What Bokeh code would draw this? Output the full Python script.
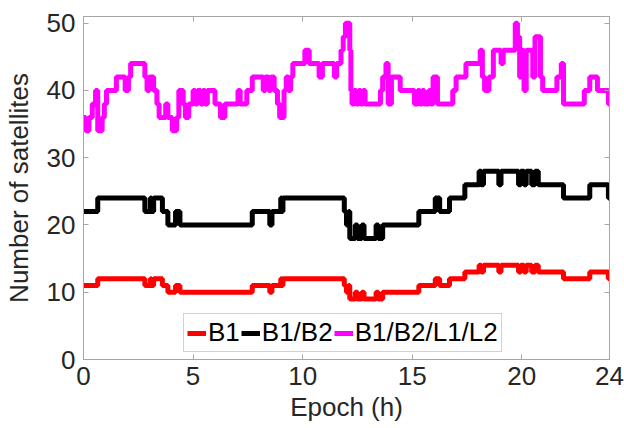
from bokeh.plotting import figure
from bokeh.models import (LinearAxis, Range1d, FixedTicker, Legend, LegendItem,
                          CustomLabelingPolicy)
from bokeh.embed import file_html
from bokeh.resources import INLINE

# ---- data ----
# switching epochs (h) shared by B1 and B1/B2 series
t_b = [0.00, 0.65, 2.80, 3.05, 3.10, 3.20, 3.60, 3.85, 4.20, 4.40, 7.70, 8.50, 8.60,
       9.00, 9.05, 9.10, 11.90, 12.00, 12.10, 12.15, 12.40, 12.50, 12.70, 12.80,
       13.35, 13.45, 13.65, 15.30, 16.05, 16.25, 16.70, 17.40, 18.05, 18.15, 18.25,
       18.95, 19.05, 19.85, 19.95, 20.10, 20.20, 20.45, 20.60, 20.75, 21.90, 23.10,
       23.95, 24.00]
n_b1 = [11, 12, 11, 12, 11, 12, 11, 10, 11, 10, 11, 10, 11,
        12, 11, 12, 11, 10, 11, 9, 10, 9, 10, 9,
        10, 9, 10, 11, 12, 11, 12, 13, 14, 13, 14,
        13, 14, 13, 14, 13, 14, 13, 14, 13, 12, 13,
        12, 12]
n_b1b2 = [22, 24, 22, 24, 22, 24, 22, 20, 22, 20, 22, 20, 22,
          24, 22, 24, 22, 20, 22, 18, 20, 18, 20, 18,
          20, 18, 20, 22, 24, 22, 24, 26, 28, 26, 28,
          26, 28, 26, 28, 26, 28, 26, 28, 26, 24, 26,
          24, 24]

t_all = [0.00, 0.10, 0.25, 0.40, 0.55, 0.65, 0.85, 0.95, 1.05, 1.50, 1.90, 2.05,
         2.15, 2.80, 2.90, 3.00, 3.20, 3.35, 3.45, 3.75, 3.85, 4.05, 4.25, 4.35,
         4.55, 4.65, 4.80, 5.00, 5.10, 5.20, 5.35, 5.45, 5.55, 5.65, 6.00, 6.25,
         6.45, 7.05, 7.15, 7.45, 7.70, 8.20, 8.30, 8.45, 8.55, 8.70, 8.85, 8.95,
         9.15, 9.25, 9.35, 9.45, 9.55, 10.10, 10.30, 10.75, 10.90, 11.45, 11.55,
         11.75, 11.85, 11.95, 12.15, 12.20, 12.25, 12.35, 12.45, 12.55, 12.65,
         12.75, 12.85, 13.55, 13.65, 13.80, 13.90, 14.05, 14.45, 15.10, 15.25,
         15.35, 15.45, 15.55, 15.75, 15.85, 15.95, 16.15, 16.85, 17.00, 17.45,
         18.10, 18.20, 18.30, 18.50, 18.70, 19.05, 19.15, 19.70, 19.80, 19.90,
         20.00, 20.10, 20.20, 20.50, 20.60, 20.85, 20.95, 21.60, 21.80, 21.90,
         22.85, 23.10, 23.45, 23.95, 24.00]
n_all = [36, 34, 36, 38, 40, 34, 36, 38, 40, 42, 40, 42,
         44, 42, 40, 42, 40, 38, 36, 38, 36, 34, 36, 40,
         38, 36, 38, 40, 38, 40, 38, 40, 38, 40, 38, 36,
         38, 40, 38, 40, 42, 40, 42, 40, 42, 40, 38, 36,
         40, 42, 40, 42, 44, 46, 44, 42, 44, 42, 44,
         46, 48, 50, 46, 40, 38, 40, 38, 40, 38,
         40, 38, 40, 42, 44, 38, 42, 40, 38, 40,
         38, 40, 38, 40, 38, 42, 38, 40, 42, 44,
         46, 42, 40, 42, 46, 44, 46, 50, 48, 42,
         46, 40, 46, 42, 48, 42, 40, 42, 44, 38,
         40, 42, 40, 38, 38]

x_ticks = [0, 5, 10, 15, 20, 24]
y_ticks = [0, 10, 20, 30, 40, 50]
series_names = ["B1", "B1/B2", "B1/B2/L1/L2"]
series_colors = ["#ff0000", "#000000", "#ff00ff"]

FONT = "Liberation Sans"
AX = "#a6a6a6"
TXT = "#262626"

p = figure(width=624, height=428, output_backend="svg", toolbar_location=None,
           x_range=Range1d(0, 24), y_range=Range1d(0, 51),
           min_border_left=81, min_border_right=15, min_border_top=16,
           min_border_bottom=69, x_axis_label="Epoch (h)",
           y_axis_label="Number of satellites")
p.background_fill_color = "white"
p.border_fill_color = "white"
p.outline_line_color = AX
p.outline_line_width = 1
p.xgrid.visible = False
p.ygrid.visible = False

for ax, ticks in ((p.xaxis[0], x_ticks), (p.yaxis[0], y_ticks)):
    ax.ticker = FixedTicker(ticks=ticks)
    ax.axis_line_color = AX
    ax.major_tick_line_color = AX
    ax.major_tick_in = 5
    ax.major_tick_out = 0
    ax.minor_tick_line_color = None
    ax.major_label_text_font = FONT
    ax.major_label_text_font_size = "26px"
    ax.major_label_text_color = TXT
    ax.axis_label_text_font = FONT
    ax.axis_label_text_font_size = "26px"
    ax.axis_label_text_font_style = "normal"
    ax.axis_label_text_color = TXT
p.xaxis[0].major_label_standoff = 7
p.xaxis[0].axis_label_standoff = 4
p.yaxis[0].major_label_standoff = 8
p.yaxis[0].axis_label_standoff = 10

# mirrored ticks (box) on top and right, without labels
no_labels = CustomLabelingPolicy(code="return (function* () {})()")
for loc, ticks in (("above", x_ticks), ("right", y_ticks)):
    a = LinearAxis(ticker=FixedTicker(ticks=ticks), major_label_policy=no_labels)
    a.axis_line_color = AX
    a.major_tick_line_color = AX
    a.major_tick_in = 5
    a.major_tick_out = 0
    a.minor_tick_line_color = None
    a.major_label_standoff = 0
    p.add_layout(a, loc)

r1 = p.step(t_b, n_b1, mode="after", line_color=series_colors[0], line_width=5)
r2 = p.step(t_b, n_b1b2, mode="after", line_color=series_colors[1], line_width=5)
r3 = p.step(t_all, n_all, mode="after", line_color=series_colors[2], line_width=5)

legend = Legend(items=[LegendItem(label=series_names[0], renderers=[r1]),
                       LegendItem(label=series_names[1], renderers=[r2]),
                       LegendItem(label=series_names[2], renderers=[r3])],
                orientation="horizontal", location=(100, 7))
legend.label_text_font = FONT
legend.label_text_font_size = "26px"
legend.label_text_color = "#000000"
legend.glyph_width = 19
legend.glyph_height = 28
legend.label_height = 28
legend.label_standoff = 2
legend.spacing = 1
legend.padding = 3
legend.margin = 0
legend.border_line_color = AX
legend.border_line_width = 1
legend.background_fill_alpha = 1
p.add_layout(legend)

open("out.html", "w").write(file_html(p, INLINE))
